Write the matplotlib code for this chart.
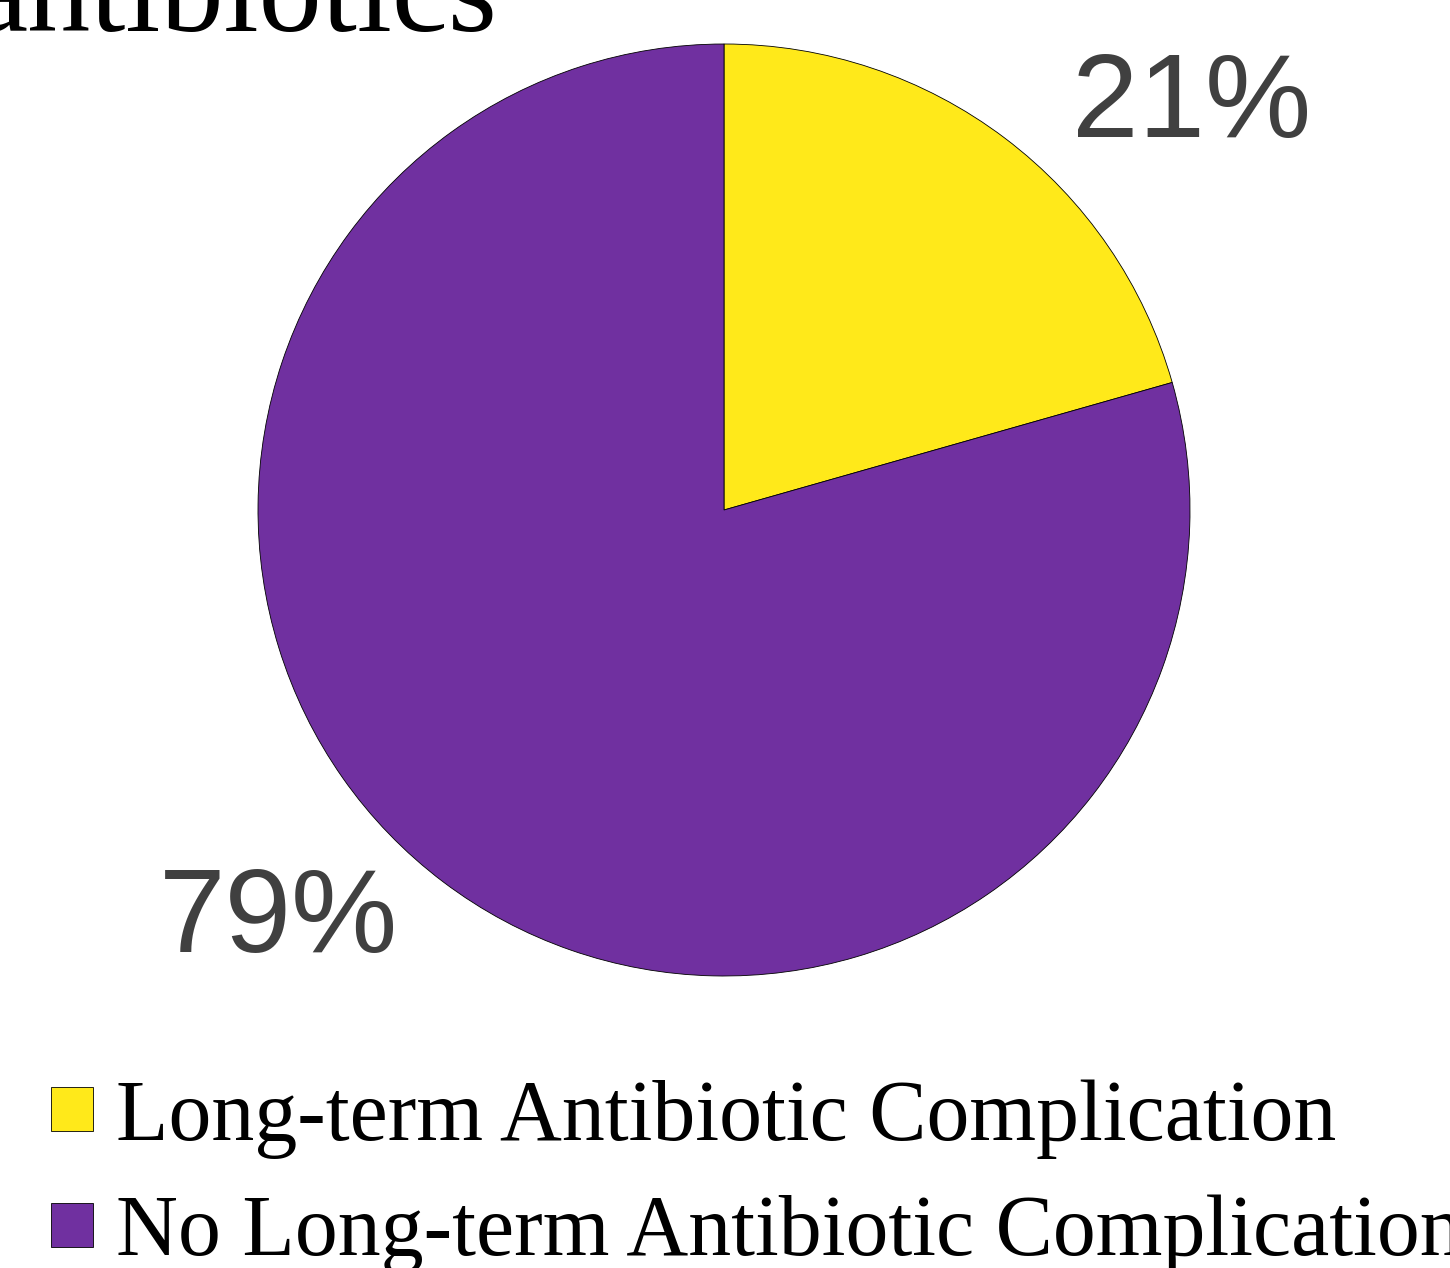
import matplotlib.pyplot as plt

# data
categories = ['Long-term Antibiotic Complication', 'No Long-term Antibiotic Complication']
counts = [7, 27]
colors = ['#FFE91A', '#7030A0']
title = 'antibiotics'

W, H, DPI = 1450, 1268, 100
fig = plt.figure(figsize=(W / DPI, H / DPI), dpi=DPI)

# pie axes placed in pixels: centre (724, 510), radius 466
cx, cy, r = 724, 510, 466
ax = fig.add_axes([(cx - r) / W, (H - cy - r) / H, 2 * r / W, 2 * r / H])
wedges, _ = ax.pie(counts, colors=colors, startangle=90, counterclock=False,
                   wedgeprops={'edgecolor': 'black', 'linewidth': 0.6})
ax.set_xlim(-1, 1)
ax.set_ylim(-1, 1)
ax.set_aspect('equal')
ax.axis('off')

total = sum(counts)
pct = [f'{round(100 * c / total)}%' for c in counts]
label_pos = [(1.004, 0.865), (-0.955, -0.884)]
for (x, y), txt in zip(label_pos, pct):
    ax.text(x, y, txt, ha='center', va='center', fontsize=86,
            family='Liberation Sans', color='#404040')

# title, cut off by the top edge as in the reference
fig.text(497 / W, 1 - 31 / H, title, ha='right', va='baseline',
         fontsize=91, family='Liberation Serif', color='black')

leg = fig.legend(wedges, categories, loc='upper left',
                 bbox_to_anchor=(17 / W, 1 - 1045 / H),
                 frameon=False, prop={'family': 'Liberation Serif', 'size': 61.8},
                 handlelength=0.48, handleheight=0.42, handletextpad=0.27,
                 labelspacing=0.42, borderaxespad=0)

fig.savefig('out.png', dpi=DPI)
